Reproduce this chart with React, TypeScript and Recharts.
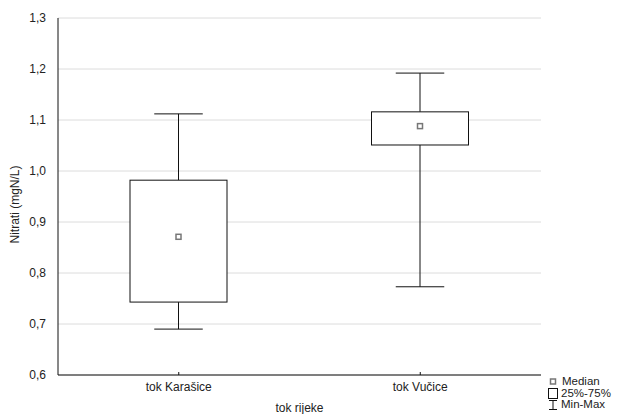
import { Bar, CartesianGrid, ComposedChart, XAxis, YAxis } from "recharts";

const categories = ["tok Karašice", "tok Vučice"];
const minValues = [0.69, 0.773];
const q1Values = [0.743, 1.051];
const medianValues = [0.871, 1.088];
const q3Values = [0.982, 1.116];
const maxValues = [1.112, 1.192];
const yTicks = [0.6, 0.7, 0.8, 0.9, 1.0, 1.1, 1.2, 1.3];

const data = categories.map((name, i) => ({
  name,
  range: [minValues[i], maxValues[i]],
  min: minValues[i],
  q1: q1Values[i],
  median: medianValues[i],
  q3: q3Values[i],
  max: maxValues[i],
}));

const FONT = "Arial, 'Liberation Sans', sans-serif";
const TICK_STYLE = { fontSize: 12, fill: "#222", fontFamily: FONT };

// box drawn inside the min-max range bar, mapped linearly from its y/height
function BoxShape(props: any) {
  const { x, y, width, height, payload } = props;
  const { min, q1, median, q3, max } = payload;
  const toY = (v: number) => y + ((max - v) / (max - min)) * height;
  const cx = x + width / 2;
  const capHalf = width / 4;
  const yq1 = toY(q1);
  const yq3 = toY(q3);
  const ym = toY(median);
  return (
    <g>
      <line x1={cx} x2={cx} y1={y} y2={yq3} stroke="#111" />
      <line x1={cx} x2={cx} y1={yq1} y2={y + height} stroke="#111" />
      <line x1={cx - capHalf} x2={cx + capHalf} y1={y} y2={y} stroke="#111" />
      <line x1={cx - capHalf} x2={cx + capHalf} y1={y + height} y2={y + height} stroke="#111" />
      <rect x={x} y={yq3} width={width} height={yq1 - yq3} fill="#fff" stroke="#111" />
      <rect x={cx - 2.5} y={ym - 2.5} width={5} height={5} fill="#fff" stroke="#777" strokeWidth={1.5} />
    </g>
  );
}

function LegendBox() {
  const row = { display: "flex", alignItems: "center", height: 11.5 } as const;
  return (
    <div
      style={{
        position: "absolute",
        left: 547,
        top: 376,
        fontFamily: FONT,
        fontSize: 11.5,
        color: "#222",
        lineHeight: "11.5px",
      }}
    >
      <div style={row}>
        <svg width={12} height={11}>
          <rect x={3.5} y={3} width={5} height={5} fill="#fff" stroke="#777" strokeWidth={1.5} />
        </svg>
        <span style={{ marginLeft: 3 }}>Median</span>
      </div>
      <div style={row}>
        <svg width={12} height={11}>
          <rect x={1.5} y={0.5} width={9} height={10} fill="#fff" stroke="#111" />
        </svg>
        <span style={{ marginLeft: 2 }}>25%-75%</span>
      </div>
      <div style={row}>
        <svg width={12} height={11}>
          <line x1={2} x2={10} y1={1.5} y2={1.5} stroke="#111" />
          <line x1={6} x2={6} y1={1.5} y2={10.5} stroke="#111" />
          <line x1={2} x2={10} y1={10.5} y2={10.5} stroke="#111" />
        </svg>
        <span style={{ marginLeft: 2 }}>Min-Max</span>
      </div>
    </div>
  );
}

export default function App() {
  return (
    <div style={{ position: "absolute", left: 0, top: 0, width: 617, height: 414, background: "#fff" }}>
      <ComposedChart
        width={617}
        height={414}
        data={data}
        margin={{ top: 18, right: 76, bottom: 0, left: 0 }}
      >
        <CartesianGrid vertical={false} horizontal stroke="#dcdcdc" />
        <XAxis
          dataKey="name"
          tick={TICK_STYLE}
          tickLine={{ stroke: "#111" }}
          tickSize={-3}
          tickMargin={10}
          axisLine={{ stroke: "#111" }}
          height={39}
          label={{ value: "tok rijeke", position: "insideBottom", offset: 2, style: { ...TICK_STYLE, textAnchor: "middle" } }}
        />
        <XAxis xAxisId="top" dataKey="name" orientation="top" height={0} tick={false} tickLine={false} axisLine={{ stroke: "#555" }} />
        <YAxis
          domain={[0.6, 1.3]}
          ticks={yTicks}
          type="number"
          width={58}
          tick={TICK_STYLE}
          tickLine={false}
          tickMargin={6}
          axisLine={{ stroke: "#111" }}
          tickFormatter={(v: number) => v.toFixed(1).replace(".", ",")}
          label={{
            value: "Nitrati (mgN/L)",
            angle: -90,
            position: "insideLeft",
            offset: 15,
            dy: 8,
            style: { ...TICK_STYLE, textAnchor: "middle" },
          }}
        />
        <YAxis yAxisId="right" orientation="right" width={0} domain={[0.6, 1.3]} type="number" tick={false} tickLine={false} axisLine={{ stroke: "#111" }} />
        <Bar dataKey="range" barSize={97} shape={<BoxShape />} isAnimationActive={false} />
      </ComposedChart>
      <LegendBox />
    </div>
  );
}
